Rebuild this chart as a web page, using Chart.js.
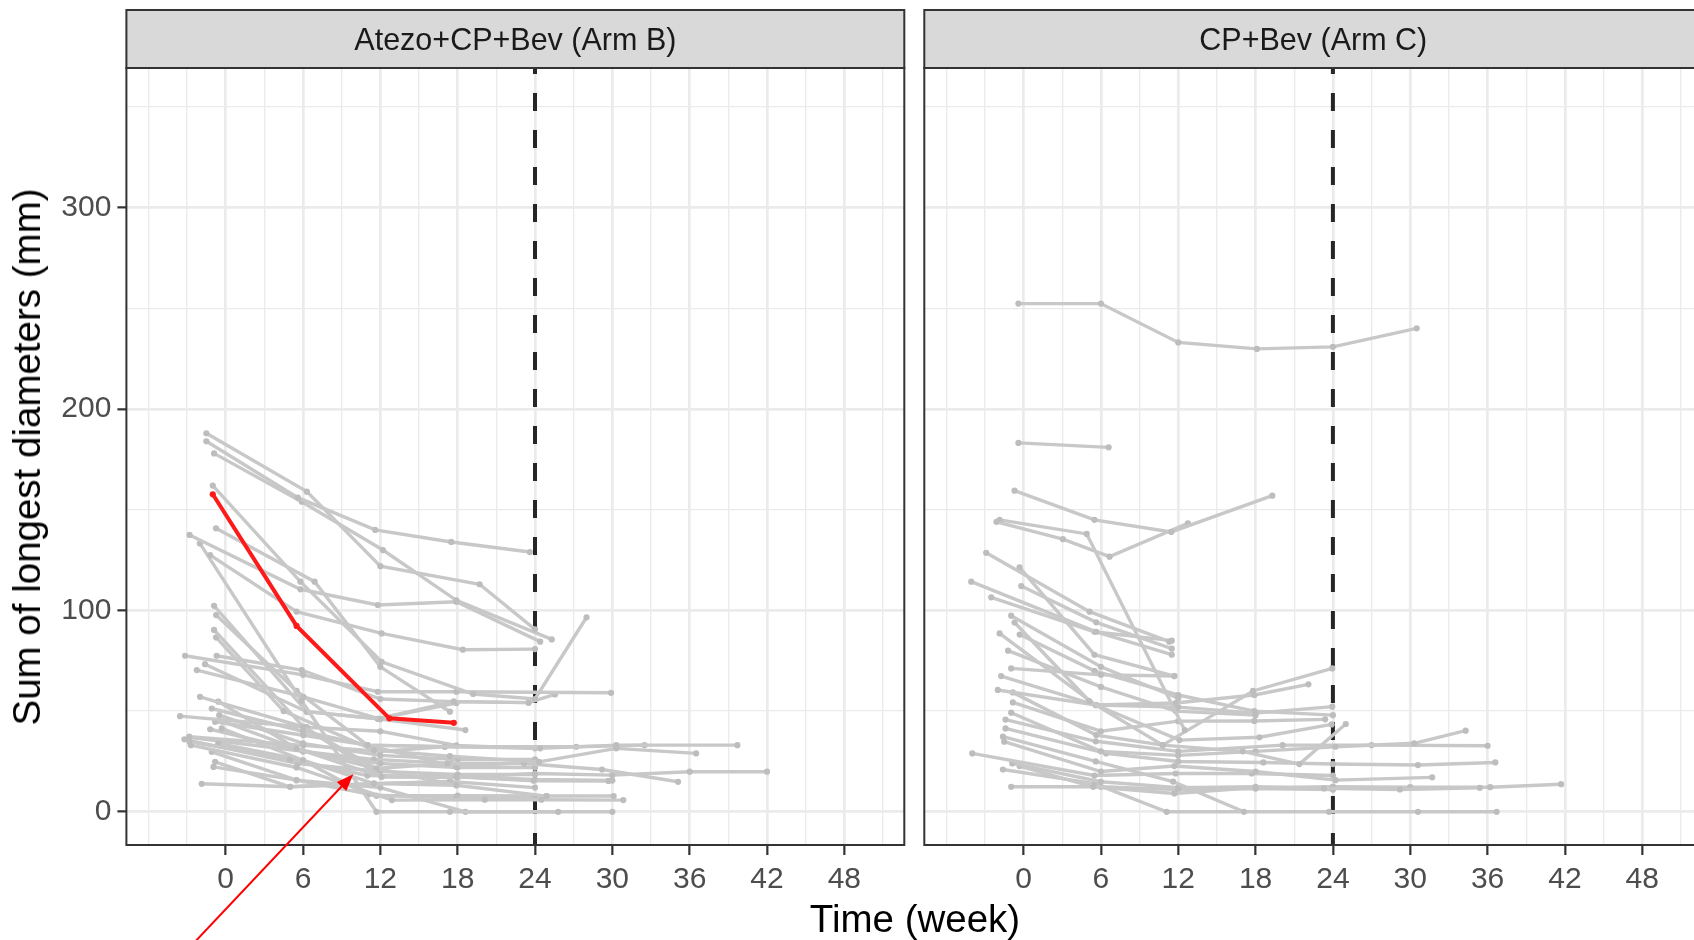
<!DOCTYPE html>
<html>
<head>
<meta charset="utf-8">
<script src="https://cdn.jsdelivr.net/npm/chart.js@4.4.0/dist/chart.umd.min.js"></script>
<style>
  html, body { margin: 0; padding: 0; background: #fff; overflow: hidden; }
  #wrap { position: relative; width: 1694px; height: 940px; overflow: hidden; }
  canvas { position: absolute; top: 0; }
  #c1 { left: 0; }
  #c2 { left: 914px; }
  .title { position: absolute; font-family: "Liberation Sans", Arial, sans-serif; font-size: 38.5px; line-height: 38px; color: #000; white-space: nowrap; }
  #ytitle { left: 27px; top: 456.5px; transform: translate(-50%, -50%) rotate(-90deg); }
  #xtitle { left: 915px; top: 900px; transform: translateX(-50%); }
</style>
</head>
<body>
<div id="wrap">
  <canvas id="c1" width="914" height="940"></canvas>
  <canvas id="c2" width="800" height="940"></canvas>
  <div class="title" id="ytitle">Sum of longest diameters (mm)</div>
  <div class="title" id="xtitle">Time (week)</div>
</div>
<script>
var panelTitles = ['Atezo+CP+Bev (Arm B)', 'CP+Bev (Arm C)'];
var xTickLabels = [0, 6, 12, 18, 24, 30, 36, 42, 48];
var xGrid = [-6, -3, 0, 3, 6, 9, 12, 15, 18, 21, 24, 27, 30, 33, 36, 39, 42, 45, 48, 51];
var yTickLabels = [0, 100, 200, 300];
var yGrid = [0, 50, 100, 150, 200, 250, 300, 350];
var xRange = [-7.7, 52.65];
var yRange = [-16.5, 369.4];
var cutoffWeek = 24;

// patient marked in red (Arm B)
var armBHighlight = [[-1, 157.7], [5.5, 92.3], [12.7, 46.4], [17.7, 44.2]];

// [week, SLD] per patient
var armB = [
  [[-1.5, 188], [6.3, 159], [12, 122], [19.7, 113], [24, 90.6]],
  [[-1.5, 184], [5.6, 156], [11.6, 140], [17.5, 134], [23.6, 129]],
  [[-0.9, 178], [5.9, 154], [12.2, 130], [17.9, 105], [25.3, 85.6]],
  [[-2.8, 137.5], [5.8, 110.5], [11.8, 102.7], [17.9, 104.3], [24.4, 84.5]],
  [[-1.2, 127.5], [5.5, 99.4], [12.1, 88.6], [18.4, 80.5], [24, 80.8]],
  [[-1, 162], [5.8, 114.3], [12.1, 74.5], [19.2, 58.5], [24, 56], [28, 96.6]],
  [[-0.75, 140.8], [6.9, 114.3], [12, 72], [17.4, 49.7]],
  [[-2, 133.3], [5.9, 55], [11.7, 0], [17.4, 0], [25.8, 0]],
  [[-3.15, 77.5], [6, 68], [11.8, 59.6], [17.9, 59.6], [29.9, 59.1]],
  [[-0.7, 77.5], [5.9, 70.4], [12, 56], [17.7, 54.7], [23.5, 54.2], [25.55, 58.3]],
  [[-2.24, 70.4], [6.03, 57.1], [12, 46], [18.6, 40.6]],
  [[-0.9, 102.3], [6.3, 49.7], [11.8, 46.2], [17.9, 54]],
  [[-0.74, 97.7], [5.5, 60], [11, 33.1], [24.4, 31.5], [30.3, 33.1], [39.7, 33.1]],
  [[-0.9, 90.3], [6.03, 42.2], [12.1, 17.4], [17.9, 17.4], [23.9, 15.4], [29.7, 15.3]],
  [[-0.74, 86.6], [4.5, 50], [11.5, 30.6], [17.4, 27.6], [24.3, 24.8], [30.3, 31.5], [36.5, 29]],
  [[-1.99, 57.1], [6.03, 42.2], [11.7, 21.5], [17.2, 24], [23.15, 24], [29.2, 21], [35.1, 14.9]],
  [[-0.57, 54.7], [5.5, 31.4], [12.1, 17.4], [18, 17], [24, 19], [30, 18.2], [36, 19.9], [42, 19.9]],
  [[-1.08, 51.3], [6, 40], [11, 33.1], [17, 32.3], [27.2, 32.3], [32.5, 33.1]],
  [[-3.54, 47.5], [6.29, 42], [12, 40], [17.9, 33], [24, 31.5]],
  [[-0.82, 44.7], [6.03, 38], [11, 33.1], [17.9, 22.3], [24, 24.8]],
  [[-0.18, 44.7], [5.5, 31.4], [11.7, 21.5], [17.9, 13.2], [24.9, 7.8], [30.1, 7.8]],
  [[-0.3, 41.4], [6, 25.6], [11.5, 14], [17.4, 15], [24, 12]],
  [[-2.82, 37.3], [6.03, 33], [12, 30], [17, 32.3]],
  [[-2.8, 34.8], [5, 26], [11, 18], [17.9, 17.4], [24, 16], [30, 15.5]],
  [[-2.7, 33.1], [5.5, 22], [12.9, 5.8], [20.1, 6], [24.5, 6], [30.85, 5.8]],
  [[-0.57, 33.9], [6, 25.6], [11, 8.3], [17.9, 7], [24, 7]],
  [[-1.08, 29.8], [5.5, 15.7], [11.7, 8], [18, 8], [24.9, 7.8]],
  [[-0.82, 24.8], [5, 12.4], [11.5, 14], [17.4, 15]],
  [[-0.95, 22.3], [5.5, 15.7], [12, 12], [18.6, 0], [30, 0]],
  [[-1.86, 13.9], [5, 12.4], [11.5, 14], [17.9, 13.2]],
  [[-1.6, 73.3], [6.29, 49.7], [11.8, 46.2], [17.7, 54.7], [23.5, 54.2]],
  [[-2.82, 37], [6, 30], [12, 24], [18, 22], [24, 22]],
  [[-0.5, 48], [6, 34], [12, 28], [18, 26], [24, 26]],
  [[-1.2, 41], [6, 30], [11.5, 26], [17.5, 24]],
  [[-3.2, 36], [5.6, 24], [12, 20], [18, 18.5], [24, 18.5]]
];

var armC = [
  [[-0.4, 252.4], [6, 252.4], [12, 233.1], [18.1, 229.9], [24, 230.9], [30.5, 240.1]],
  [[-0.4, 183.2], [6.6, 181]],
  [[-0.7, 159.5], [5.5, 145], [11.46, 139], [19.3, 157]],
  [[-2.1, 144], [3.05, 135.4], [6.67, 126.7], [12.75, 143.3]],
  [[-1.86, 145], [4.9, 138], [12.5, 40.6]],
  [[-2.9, 128.6], [5.12, 99.4], [11.3, 84.5]],
  [[-4.06, 114.3], [5.64, 89.4], [11.5, 78]],
  [[-0.18, 112.1], [5.64, 94.1], [11.5, 81]],
  [[-0.31, 121.4], [5.5, 78], [11.7, 67.4]],
  [[-2.51, 106.5], [5.5, 89.4], [11.5, 85]],
  [[-0.96, 97.4], [6, 72], [12, 56.4]],
  [[-0.7, 94], [5.1, 55], [10.8, 33.1], [17.8, 60], [23.95, 71.2]],
  [[-1.86, 88.6], [5.6, 53], [11.8, 54], [17.9, 58], [22.1, 63.3]],
  [[-0.96, 71.2], [6, 68], [11.7, 67.4]],
  [[-1.74, 67.4], [5.6, 53], [12, 52], [18, 49], [23.95, 52.2]],
  [[-2.0, 60.5], [5.64, 53], [12.1, 35.6], [18.3, 37], [23.9, 43.4]],
  [[-0.83, 59.3], [5.64, 38.1], [10.8, 33.1], [17, 30], [21.4, 23.7], [25, 43.6]],
  [[-0.83, 54.3], [6, 40], [12, 45], [17.9, 45.1], [23.4, 45.9]],
  [[-0.96, 49.2], [6, 30], [12, 28], [18, 30], [24.2, 32.3], [30.3, 34], [34.3, 40.3]],
  [[-1.4, 45.8], [5.6, 35], [12, 30], [20.1, 33.1], [27, 33.1], [36, 32.8]],
  [[-1.4, 41.4], [6.4, 29], [12, 25], [18.6, 24.5], [24, 23.7], [30.6, 23.2], [36.6, 24.5]],
  [[-1.6, 37.3], [5.6, 25], [11.6, 15], [17.1, 0]],
  [[-1.5, 34.8], [6, 20], [11.7, 22.7], [18, 20], [24.2, 15.7], [31.7, 17.1]],
  [[-3.98, 29.0], [5.5, 18], [11.8, 19], [17.7, 19], [24, 18]],
  [[-0.88, 24.0], [6, 14.9], [12, 12], [18, 12.4], [23.3, 11.6], [29.2, 11.1], [35.4, 11.9]],
  [[-0.31, 22.7], [5.4, 12.4], [11.7, 9.1], [18, 12], [24, 12.5], [30, 12.2], [36.2, 12.2], [41.7, 13.7]],
  [[-1.6, 21.0], [5.5, 14], [11.1, 0], [23.7, 0], [30.6, 0], [36.7, 0]],
  [[-0.96, 12.4], [6, 12.4], [12, 11], [18, 11.5], [24, 11]],
  [[-1.2, 80], [6, 62], [11.8, 50], [18, 48]],
  [[-0.3, 88], [5.5, 70], [12, 58], [17.9, 50], [24, 48]]
];

// red arrow, in data units of the Arm B panel
var arrowFrom = [-2.4, -64.7];
var arrowTo = [9.9, 18.7];

var FONT = '"Liberation Sans", Arial, Helvetica, sans-serif';

function lineSet(pts, colour, ptColour, width, order) {
  return {
    data: pts.map(function (p) { return { x: p[0], y: p[1] }; }),
    showLine: true,
    borderColor: colour,
    borderWidth: width,
    pointRadius: 3.1,
    pointHoverRadius: 3.1,
    pointBackgroundColor: ptColour,
    pointBorderWidth: 0,
    tension: 0,
    order: order
  };
}

var panelPlugin = {
  id: 'panel',
  afterDraw: function (chart) {
    var a = chart.chartArea, c = chart.ctx;
    var title = chart.options.plugins.panel.title;
    c.save();
    c.fillStyle = '#D9D9D9';
    c.fillRect(a.left, 10, a.right - a.left, a.top - 10);
    c.strokeStyle = '#333333';
    c.lineWidth = 2;
    c.strokeRect(a.left, 10, a.right - a.left, a.top - 10);
    c.strokeRect(a.left, a.top, a.right - a.left, a.bottom - a.top);
    c.fillStyle = '#1A1A1A';
    c.font = '30.5px ' + FONT;
    c.textAlign = 'center';
    c.textBaseline = 'alphabetic';
    c.fillText(title, (a.left + a.right) / 2, 50);
    c.restore();
  }
};

var arrowPlugin = {
  id: 'arrow',
  afterDraw: function (chart) {
    var xs = chart.scales.x, ys = chart.scales.y, c = chart.ctx;
    var x0 = xs.getPixelForValue(arrowFrom[0]), y0 = ys.getPixelForValue(arrowFrom[1]);
    var x1 = xs.getPixelForValue(arrowTo[0]), y1 = ys.getPixelForValue(arrowTo[1]);
    var ang = Math.atan2(y1 - y0, x1 - x0), len = 17, half = 6.5;
    var cs = Math.cos(ang), sn = Math.sin(ang);
    c.save();
    c.strokeStyle = 'red';
    c.fillStyle = 'red';
    c.lineWidth = 2;
    c.beginPath();
    c.moveTo(x0, y0);
    c.lineTo(x1 - cs * len * 0.8, y1 - sn * len * 0.8);
    c.stroke();
    c.beginPath();
    c.moveTo(x1, y1);
    c.lineTo(x1 - cs * len + half * sn, y1 - sn * len - half * cs);
    c.lineTo(x1 - cs * len - half * sn, y1 - sn * len + half * cs);
    c.closePath();
    c.fill();
    c.restore();
  }
};

function isXLabel(v) { return xTickLabels.indexOf(v) >= 0; }
function isYLabel(v) { return yTickLabels.indexOf(v) >= 0; }

function makeChart(id, arm, title, first, highlight, yWidth, padRight) {
  var datasets = [];
  if (highlight) datasets.push(lineSet(highlight, '#FF1A1A', '#FF1A1A', 4, 0));
  arm.forEach(function (p) { datasets.push(lineSet(p, '#C8C8C8', '#BDBDBD', 3.4, 1)); });
  datasets.push({
    data: [{ x: cutoffWeek, y: yRange[0] }, { x: cutoffWeek, y: yRange[1] }],
    showLine: true,
    borderColor: '#262626',
    borderWidth: 4,
    borderDash: [18, 19],
    borderDashOffset: 6,
    pointRadius: 0,
    order: 2
  });

  return new Chart(document.getElementById(id), {
    type: 'scatter',
    data: { datasets: datasets },
    options: {
      responsive: false,
      animation: false,
      devicePixelRatio: 1,
      events: [],
      layout: { padding: { top: 68, left: 0, right: padRight, bottom: 0 } },
      plugins: {
        legend: { display: false },
        tooltip: { enabled: false },
        panel: { title: title }
      },
      scales: {
        x: {
          type: 'linear',
          min: xRange[0],
          max: xRange[1],
          afterBuildTicks: function (s) { s.ticks = xGrid.map(function (v) { return { value: v }; }); },
          afterFit: function (s) { s.height = 95; },
          border: { display: false },
          grid: {
            color: '#EBEBEB',
            lineWidth: function (ctx) { return ctx.tick && isXLabel(ctx.tick.value) ? 2.7 : 1.35; },
            drawTicks: true,
            tickLength: 10,
            tickWidth: 2.2,
            tickColor: function (ctx) { return ctx.tick && isXLabel(ctx.tick.value) ? '#333333' : 'rgba(0,0,0,0)'; }
          },
          ticks: {
            autoSkip: false,
            maxRotation: 0,
            minRotation: 0,
            padding: 7,
            color: '#4D4D4D',
            font: { family: FONT, size: 30 },
            callback: function (v) { return isXLabel(v) ? String(v) : ''; }
          }
        },
        y: {
          type: 'linear',
          min: yRange[0],
          max: yRange[1],
          afterBuildTicks: function (s) { s.ticks = yGrid.map(function (v) { return { value: v }; }); },
          afterFit: function (s) { s.width = yWidth; },
          border: { display: false },
          grid: {
            color: '#EBEBEB',
            lineWidth: function (ctx) { return ctx.tick && isYLabel(ctx.tick.value) ? 2.7 : 1.35; },
            drawTicks: first,
            tickLength: 9,
            tickWidth: 2.2,
            tickColor: function (ctx) { return ctx.tick && isYLabel(ctx.tick.value) ? '#333333' : 'rgba(0,0,0,0)'; }
          },
          ticks: {
            display: first,
            autoSkip: false,
            padding: 6,
            color: '#4D4D4D',
            font: { family: FONT, size: 30 },
            callback: function (v) { return isYLabel(v) ? String(v) : ''; }
          }
        }
      }
    },
    plugins: first ? [panelPlugin, arrowPlugin] : [panelPlugin]
  });
}

makeChart('c1', armB, panelTitles[0], true, armBHighlight, 126.4, 9.7);
makeChart('c2', armC, panelTitles[1], false, null, 10.3, 11.8);
</script>
</body>
</html>
